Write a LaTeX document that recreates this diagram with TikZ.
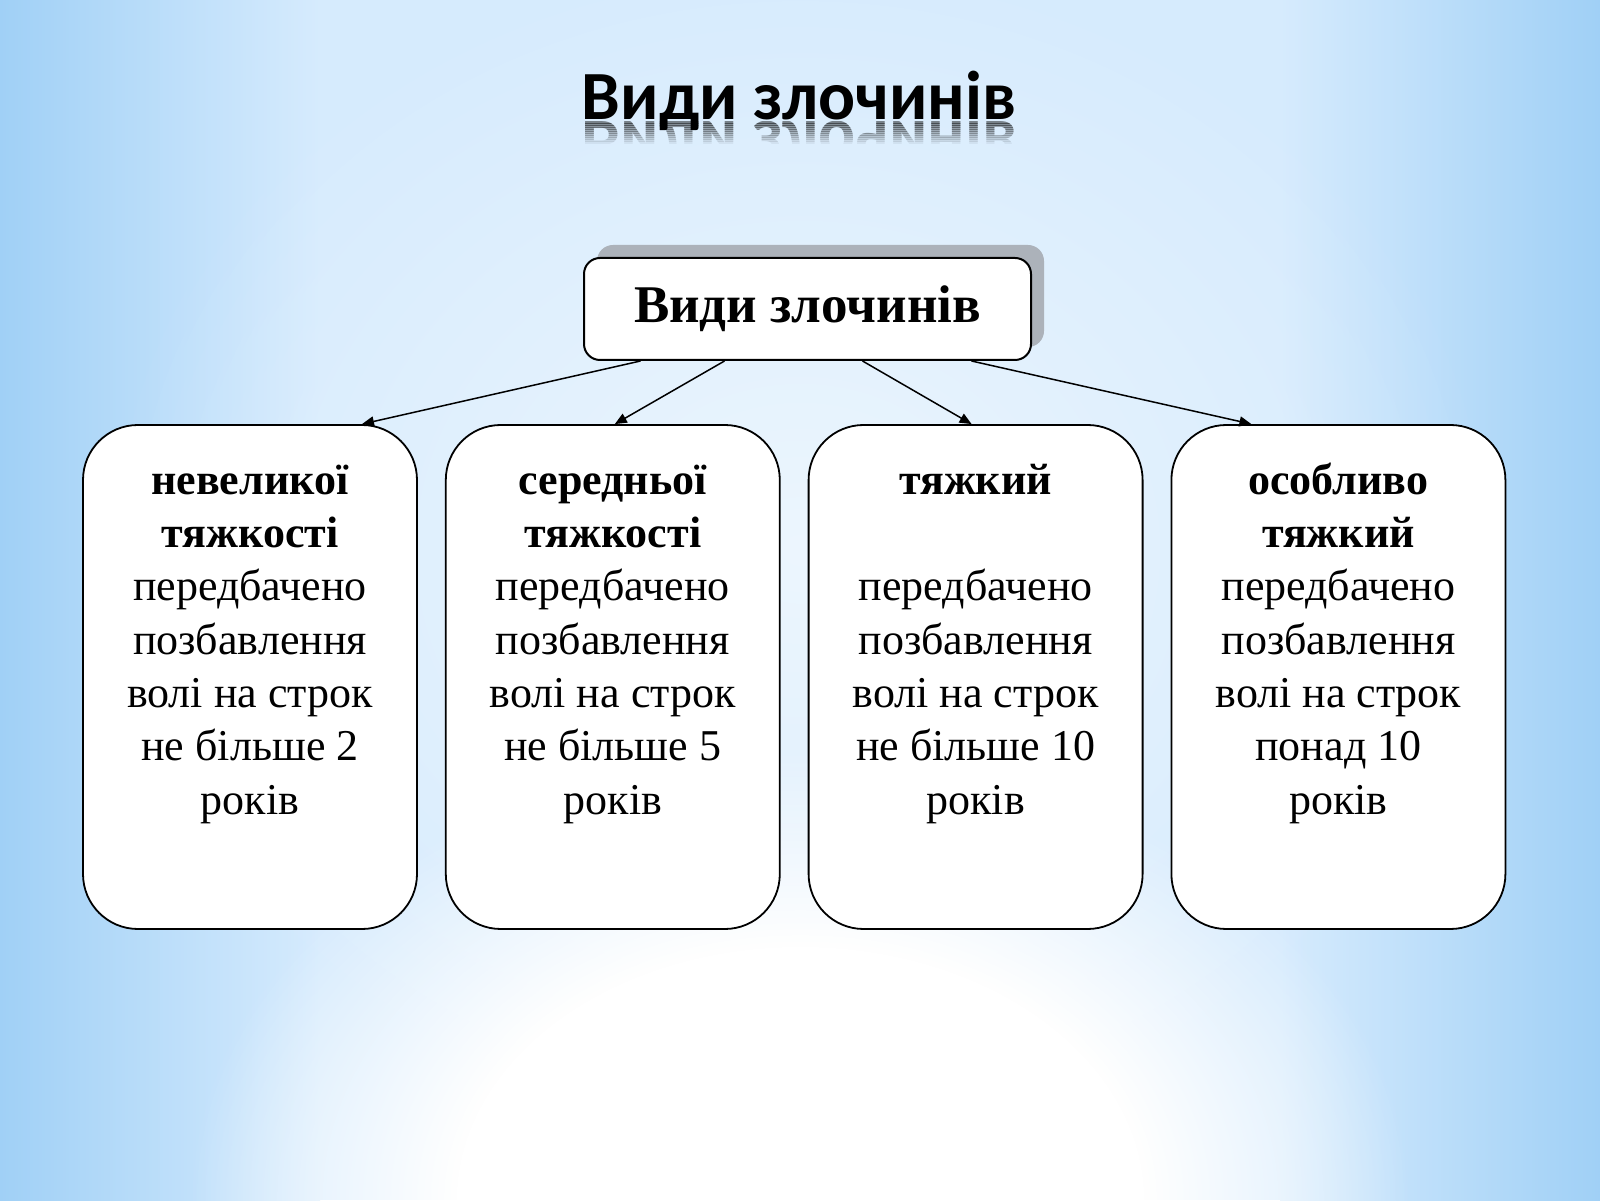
\documentclass[tikz,border=0pt]{standalone}
\usepackage{fontspec}
\setmainfont{Liberation Serif}
\newfontfamily\titlefont{Carlito}
\usetikzlibrary{positioning,shadows,fadings,arrows.meta}
\definecolor{bgmid}{RGB}{214,235,253}
\definecolor{bgedge}{RGB}{160,208,246}
\definecolor{shadowgray}{RGB}{172,178,186}
\tikzfading[name=glow, inner color=transparent!0, outer color=transparent!100]
\pgfdeclareradialshading{glowshade}{\pgfpointorigin}{color(0bp)=(white); color(14bp)=(white); color(25bp)=(black); color(50bp)=(black)}
\pgfdeclarefading{softglow}{\pgfuseshading{glowshade}}
\tikzset{
  titletext/.style={inner sep=0pt, font=\titlefont\fontsize{69}{76}\selectfont\bfseries},
  root/.style={draw, line width=2pt, fill=white, rounded corners=16pt,
    minimum width=447pt, minimum height=102pt,
    font=\fontsize{53}{60}\selectfont\bfseries,
    drop shadow={shadow xshift=13pt, shadow yshift=13pt, fill=shadowgray, opacity=1}},
  kind/.style={draw, line width=1.8pt, fill=white, rounded corners=55pt,
    minimum width=334pt, minimum height=504pt},
  kindtext/.style={align=center, inner sep=0pt, font=\fontsize{44}{53.3}\selectfont},
  arr/.style={line width=1.5pt, -{Triangle[length=12pt,width=10pt]}}
}
\begin{document}
\begin{tikzpicture}[x=1pt,y=1pt]
  \useasboundingbox (0,0) rectangle (1600,1200);
  % background
  \fill[bgmid] (0,0) rectangle (1600,1200);
  \shade[left color=bgedge, right color=bgmid] (0,0) rectangle (320,1200);
  \shade[left color=bgmid, right color=bgedge] (1280,0) rectangle (1600,1200);
  \fill[white, path fading=glow, opacity=0.55] (800,650) ellipse [x radius=700, y radius=600];
  \fill[white, path fading=softglow] (800,0) ellipse [x radius=610, y radius=450];
  % title and its reflection
  \node[titletext, anchor=base] (title) at (799,1080) {Види злочинів};
  \foreach \i [evaluate=\i as \op using 0.45-0.04*\i] in {0,...,10} {
    \begin{scope}
      \clip (560,{1078-2*\i}) rectangle (1040,{1076-2*\i});
      \node[titletext, anchor=base, yscale=-1, transform shape, text opacity=\op]
        (mirror\i) at (799,1078) {Види злочинів};
    \end{scope}
  }
  % tree
  \node[root] (root) at (807.5,891) {Види злочинів};
  \node[kind] (k1) at (250,523) {};
  \node[kind, right=27pt of k1] (k2) {};
  \node[kind, right=27pt of k2] (k3) {};
  \node[kind, right=27pt of k3] (k4) {};
  \node[kindtext, below=32.7pt of k1.north] (t1) {\textbf{\strut невеликої}\\
    \textbf{тяжкості}\\ передбачено\\ позбавлення\\ волі на строк\\ не більше 2\\ років};
  \node[kindtext, below=32.7pt of k2.north] (t2) {\textbf{\strut середньої}\\
    \textbf{тяжкості}\\ передбачено\\ позбавлення\\ волі на строк\\ не більше 5\\ років};
  \node[kindtext, below=32.7pt of k3.north] (t3) {\textbf{\strut тяжкий}\\
    \mbox{}\\ передбачено\\ позбавлення\\ волі на строк\\ не більше 10\\ років};
  \node[kindtext, below=32.7pt of k4.north] (t4) {\textbf{\strut особливо}\\
    \textbf{тяжкий}\\ передбачено\\ позбавлення\\ волі на строк\\ понад 10\\ років};
  \draw[arr] ([xshift=-167pt]root.south) -- ([xshift=112pt]k1.north);
  \draw[arr] ([xshift=-83pt]root.south) -- ([xshift=2pt]k2.north);
  \draw[arr] ([xshift=55pt]root.south) -- ([xshift=-4pt]k3.north);
  \draw[arr] ([xshift=164pt]root.south) -- ([xshift=-87pt]k4.north);
\end{tikzpicture}
\end{document}
